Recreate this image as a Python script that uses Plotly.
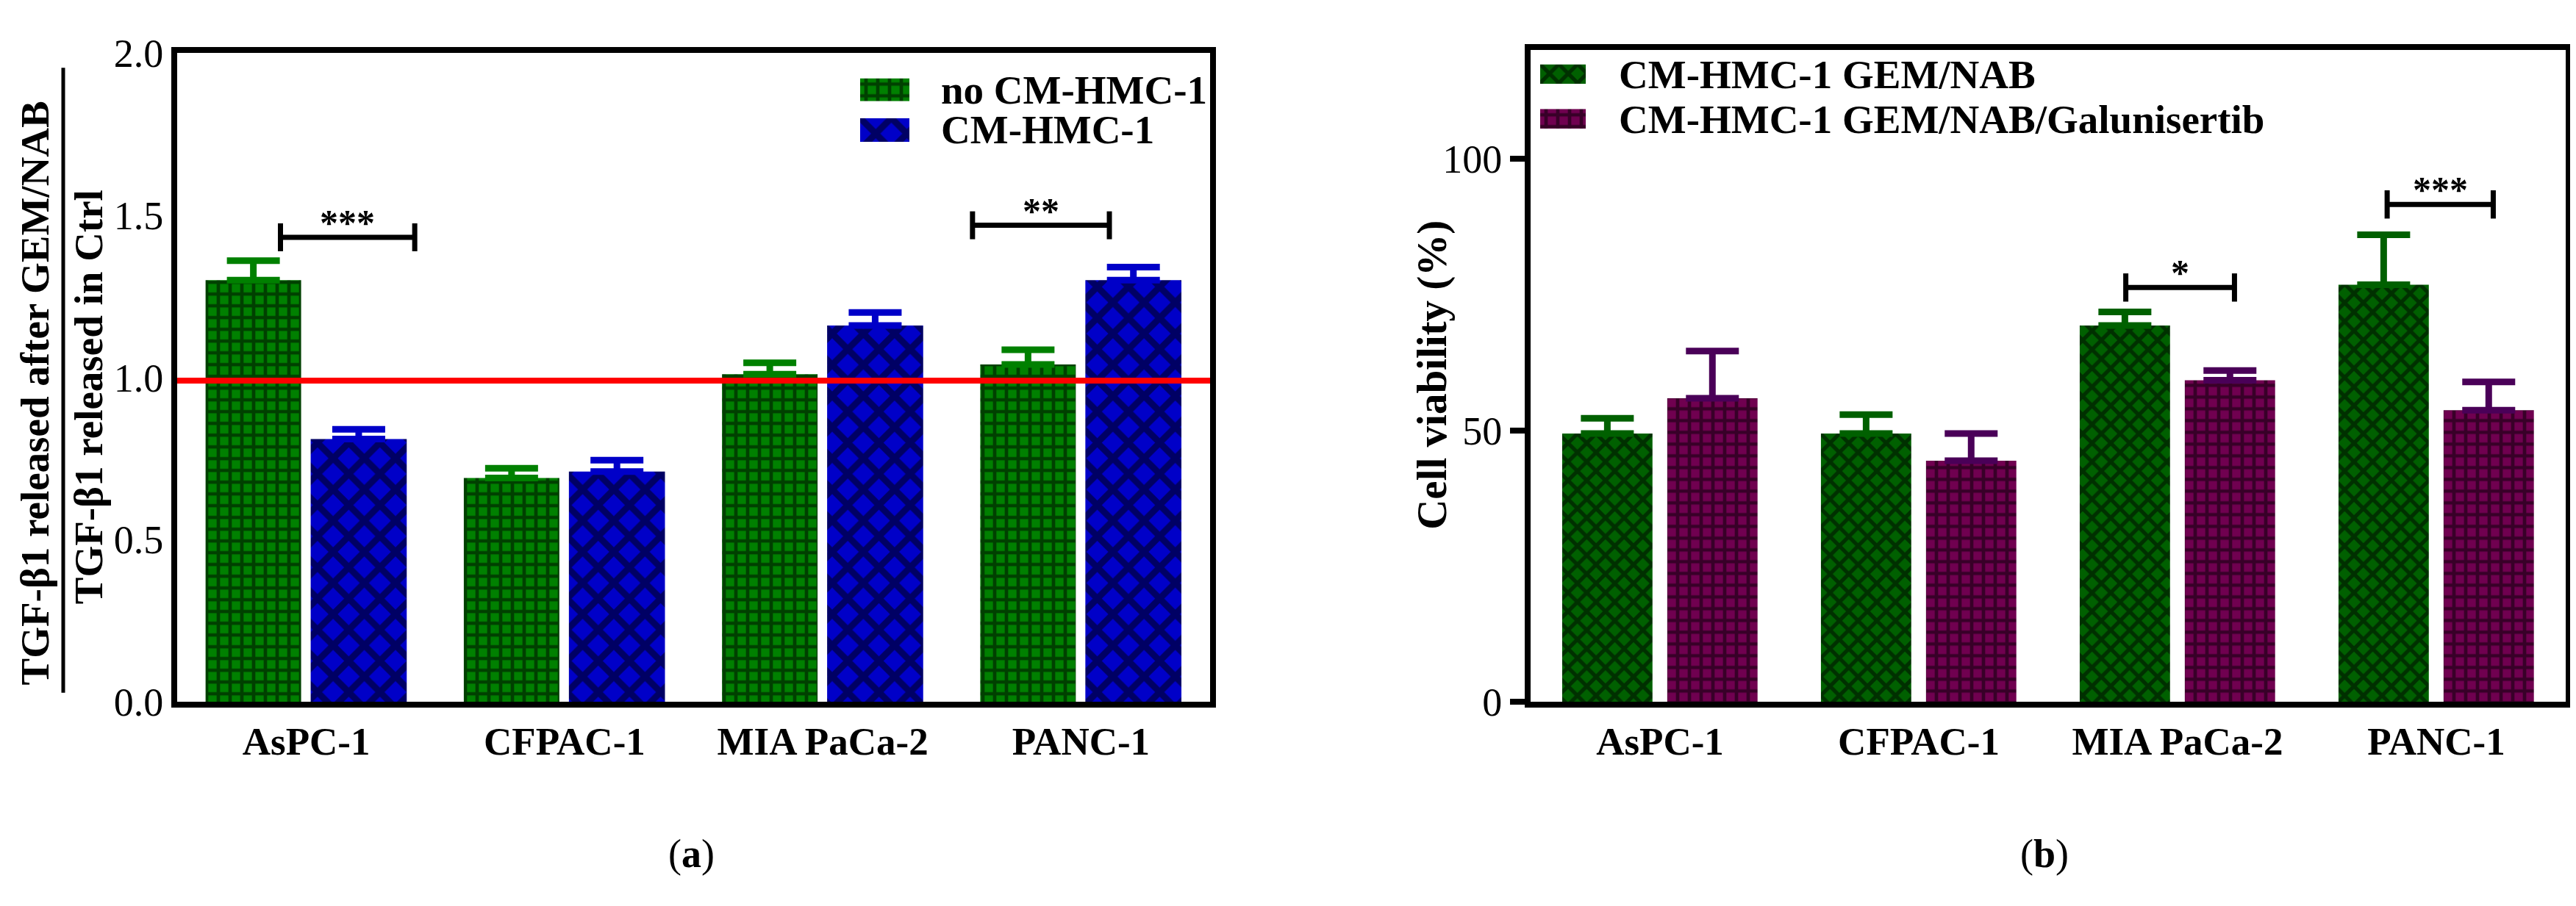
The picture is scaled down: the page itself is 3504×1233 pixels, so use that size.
import plotly.graph_objects as go

W, H = 3504, 1233

cell_lines = ["AsPC-1", "CFPAC-1", "MIA PaCa-2", "PANC-1"]

# (a) TGF-b1 released after GEM/NAB over TGF-b1 released in Ctrl
tgf_no_cm = [1.30, 0.69, 1.01, 1.04]
tgf_no_cm_err = [0.06, 0.03, 0.035, 0.045]
tgf_cm = [0.81, 0.71, 1.16, 1.30]
tgf_cm_err = [0.03, 0.035, 0.04, 0.04]
tgf_ref = 0.99

# (b) cell viability (%)
via_gem_nab = [49.4, 49.4, 69.3, 76.8]
via_gem_nab_err = [2.8, 3.5, 2.5, 9.2]
via_galu = [55.9, 44.4, 59.2, 53.7]
via_galu_err = [8.7, 5.0, 1.8, 5.2]

# significance brackets: cell line, left/right end (category units from the group centre), height, stars
sig_a = [("AsPC-1", -0.10, 0.42, 1.432, "***"), ("PANC-1", -0.42, 0.11, 1.469, "**")]
sig_b = [("MIA PaCa-2", -0.20, 0.22, 76.3, "*"), ("PANC-1", -0.19, 0.22, 91.6, "***")]

SERIF = "Liberation Serif"
GREEN_A, BLUE_A = "#008000", "#0000c8"
GREEN_B, PURPLE_B, PURPLE_ERR = "#006000", "#700050", "#4a0058"

pat_grid_a = dict(shape="+", fgcolor="black", size=16, solidity=0.5)
pat_cross_a = dict(shape="x", fgcolor="black", size=30, solidity=0.5)
pat_check_b = dict(shape="x", fgcolor="black", size=18, solidity=0.5)
pat_grid_b = dict(shape="+", fgcolor="black", size=16, solidity=0.5)


def px(x):
    return x / W


def py(y):
    return 1 - y / H


def err(vals, color):
    return dict(type="data", symmetric=False, array=vals, arrayminus=[0] * len(vals),
                color=color, thickness=9, width=36)


fig = go.Figure()

# panel (a)
fig.add_trace(go.Bar(x=cell_lines, y=tgf_no_cm, name="no CM-HMC-1", width=0.37, offset=-0.39,
                     marker=dict(color=GREEN_A, line_width=0, pattern=pat_grid_a),
                     error_y=err(tgf_no_cm_err, GREEN_A), xaxis="x", yaxis="y", showlegend=False))
fig.add_trace(go.Bar(x=cell_lines, y=tgf_cm, name="CM-HMC-1", width=0.372, offset=0.017,
                     marker=dict(color=BLUE_A, line_width=0, pattern=pat_cross_a),
                     error_y=err(tgf_cm_err, BLUE_A), xaxis="x", yaxis="y", showlegend=False))

# panel (b)
fig.add_trace(go.Bar(x=cell_lines, y=via_gem_nab, name="CM-HMC-1 GEM/NAB", width=0.349, offset=-0.378,
                     marker=dict(color=GREEN_B, line_width=0, pattern=pat_check_b),
                     error_y=err(via_gem_nab_err, GREEN_B), xaxis="x2", yaxis="y2", showlegend=False))
fig.add_trace(go.Bar(x=cell_lines, y=via_galu, name="CM-HMC-1 GEM/NAB/Galunisertib", width=0.349, offset=0.028,
                     marker=dict(color=PURPLE_B, line_width=0, pattern=pat_grid_b),
                     error_y=err(via_galu_err, PURPLE_ERR), xaxis="x2", yaxis="y2", showlegend=False))

# hand made legend keys (big swatches like the original)
legend_keys = [
    ("no CM-HMC-1", GREEN_A, pat_grid_a, (1162, 1229, 73, 106), 1270, 90),
    ("CM-HMC-1", BLUE_A, pat_cross_a, (1162, 1229, 130, 164), 1270, 147),
    ("CM-HMC-1 GEM/NAB", GREEN_B, pat_check_b, (2087, 2149, 53, 81), 2192, 68),
    ("CM-HMC-1 GEM/NAB/Galunisertib", PURPLE_B, pat_grid_b, (2087, 2149, 117, 145), 2192, 132),
]
annotations = []
for i, (label, color, pat, box, tx, ty) in enumerate(legend_keys):
    n = i + 3
    fig.add_trace(go.Bar(x=[0], y=[1], width=1, marker=dict(color=color, line_width=0, pattern=pat),
                         xaxis=f"x{n}", yaxis=f"y{n}", showlegend=False, hoverinfo="skip"))
    x0, x1, y0, y1 = box
    fig.layout[f"xaxis{n}"] = dict(domain=[px(x0), px(x1)], range=[-0.5, 0.5], visible=False,
                                    anchor=f"y{n}", fixedrange=True)
    fig.layout[f"yaxis{n}"] = dict(domain=[py(y1), py(y0)], range=[0, 1], visible=False,
                                    anchor=f"x{n}", fixedrange=True)
    annotations.append(dict(x=px(tx), y=py(ty), xref="paper", yref="paper", text=label,
                            showarrow=False, xanchor="left", yanchor="middle",
                            font=dict(family=SERIF, size=55, color="black", weight="bold")))

shapes = []
# red reference line at ratio ~1
shapes.append(dict(type="line", xref="x domain", yref="y", x0=0, x1=1, y0=tgf_ref, y1=tgf_ref,
                   line=dict(color="#ff0000", width=8), layer="above"))


def add_brackets(sigs, xref, yref, tick):
    for name, lo, hi, h, stars in sigs:
        c = cell_lines.index(name)
        xa, xb = c + lo, c + hi
        shapes.append(dict(type="line", xref=xref, yref=yref, x0=xa, x1=xb, y0=h, y1=h,
                           line=dict(color="black", width=7)))
        for xe in (xa, xb):
            shapes.append(dict(type="line", xref=xref, yref=yref, x0=xe, x1=xe, y0=h - tick, y1=h + tick,
                               line=dict(color="black", width=7)))
        annotations.append(dict(x=(xa + xb) / 2, y=h, xref=xref, yref=yref, text=stars, showarrow=False,
                                xanchor="center", yanchor="bottom", yshift=-10,
                                font=dict(family=SERIF, size=50, color="black", weight="bold")))


add_brackets(sig_a, "x", "y", 0.043)
add_brackets(sig_b, "x2", "y2", 2.6)

# fraction style y title of panel (a)
shapes.append(dict(type="line", xref="paper", yref="paper", x0=px(78), x1=px(78), y0=py(952), y1=py(58),
                   line=dict(color="black", width=5)))
annotations.append(dict(x=px(40), y=py(524), xref="paper", yref="paper", text="TGF-β1 released after GEM/NAB",
                        textangle=-90, showarrow=False, xanchor="center", yanchor="middle",
                        font=dict(family=SERIF, size=55, color="black", weight="bold")))
annotations.append(dict(x=px(112), y=py(529), xref="paper", yref="paper", text="TGF-β1 released in Ctrl",
                        textangle=-90, showarrow=False, xanchor="center", yanchor="middle",
                        font=dict(family=SERIF, size=55, color="black", weight="bold")))
annotations.append(dict(x=px(1940), y=py(497), xref="paper", yref="paper", text="Cell viability (%)",
                        textangle=-90, showarrow=False, xanchor="center", yanchor="middle",
                        font=dict(family=SERIF, size=57, color="black", weight="bold")))

# panel letters
for letter, xc in (("a", 932), ("b", 2773)):
    annotations.append(dict(x=px(xc), y=py(1183), xref="paper", yref="paper", text=f"(<b>{letter}</b>)",
                            showarrow=False, xanchor="center", yanchor="middle",
                            font=dict(family=SERIF, size=54, color="black")))

axis_common = dict(showline=True, linecolor="black", linewidth=8, mirror=True, showgrid=False,
                   zeroline=False)
cat_font = dict(family=SERIF, size=53, color="black", weight="bold")
num_font = dict(family=SERIF, size=54, color="black")

fig.update_layout(
    width=W, height=H,
    margin=dict(l=0, r=0, t=0, b=0),
    paper_bgcolor="white", plot_bgcolor="white",
    barmode="overlay",
    xaxis=dict(domain=[px(233), px(1638)], anchor="y", type="category", range=[-0.5, 3.5],
               ticks="", tickfont=cat_font, **axis_common),
    yaxis=dict(domain=[py(965), py(37)], anchor="x", range=[0, 2], tickvals=[0, 0.5, 1, 1.5, 2],
               tickformat=".1f", ticks="", tickfont=num_font, **axis_common),
    xaxis2=dict(domain=[px(2074), px(3482)], anchor="y2", type="category", range=[-0.5, 3.5],
                ticks="", tickfont=cat_font, **axis_common),
    yaxis2=dict(domain=[py(965), py(33)], anchor="x2", range=[0, 120], tickvals=[0, 50, 100],
                ticks="outside", ticklen=20, tickwidth=8, tickcolor="black", tickfont=num_font,
                **axis_common),
    shapes=shapes,
    annotations=annotations,
)

fig.write_html("out.html")
